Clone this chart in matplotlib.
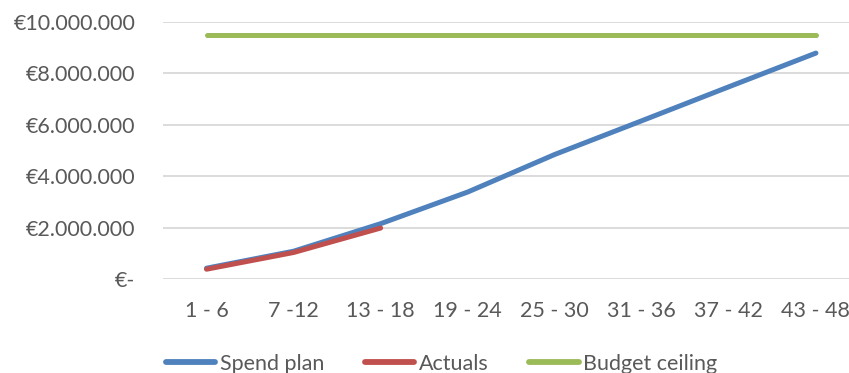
import matplotlib
matplotlib.use("Agg")
import matplotlib.pyplot as plt
from matplotlib.ticker import FuncFormatter

# Spend data per 6-week block
periods = ["1 - 6", "7 -12", "13 - 18", "19 - 24", "25 - 30", "31 - 36", "37 - 42", "43 - 48"]
spend_plan = [420000, 1080000, 2150000, 3380000, 4840000, 6150000, 7470000, 8780000]
actuals = [380000, 1030000, 1980000]
budget_ceiling = [9500000] * len(periods)

plt.rcParams["font.family"] = ["Lato", "DejaVu Sans"]
text_color = "#595959"

fig = plt.figure(figsize=(8.49, 3.73), dpi=100)
ax = fig.add_axes([163 / 849, 1 - 279 / 373, 1 - 163 / 849, (279 - 21.7) / 373])

x = list(range(len(periods)))
lw = 3.6
ax.plot(x, spend_plan, color="#4f81bd", lw=lw, solid_capstyle="round", label="Spend plan", zorder=3)
ax.plot(x[:len(actuals)], actuals, color="#c0504d", lw=lw, solid_capstyle="round", label="Actuals", zorder=4)
ax.plot(x, budget_ceiling, color="#9bbb59", lw=lw, solid_capstyle="round", label="Budget ceiling", zorder=3)

ax.set_xlim(-0.5, 7.38)
ax.set_ylim(0, 10000000)
ax.set_yticks(range(0, 10000001, 2000000))
ax.set_xticks(x)
ax.set_xticklabels(periods)


def euro(v, pos):
    if v == 0:
        return "€-"
    return "€" + f"{int(v):,}".replace(",", ".")


ax.yaxis.set_major_formatter(FuncFormatter(euro))
ax.grid(axis="y", color="#d9d9d9", lw=1.3)
ax.set_axisbelow(True)
for s in ax.spines.values():
    s.set_visible(False)
ax.tick_params(axis="both", length=0, labelsize=15.5, colors=text_color)
ax.tick_params(axis="y", pad=20)
ax.tick_params(axis="x", pad=16)

leg = fig.legend(loc="center", bbox_to_anchor=(0.52, 1 - 364 / 373), ncol=3, frameon=False,
                 fontsize=15.5, handlelength=2.3, handletextpad=0.2, columnspacing=1.9,
                 labelcolor=text_color)
for h in leg.legend_handles:
    h.set_linewidth(4.2)

fig.savefig("out.png", dpi=100)
